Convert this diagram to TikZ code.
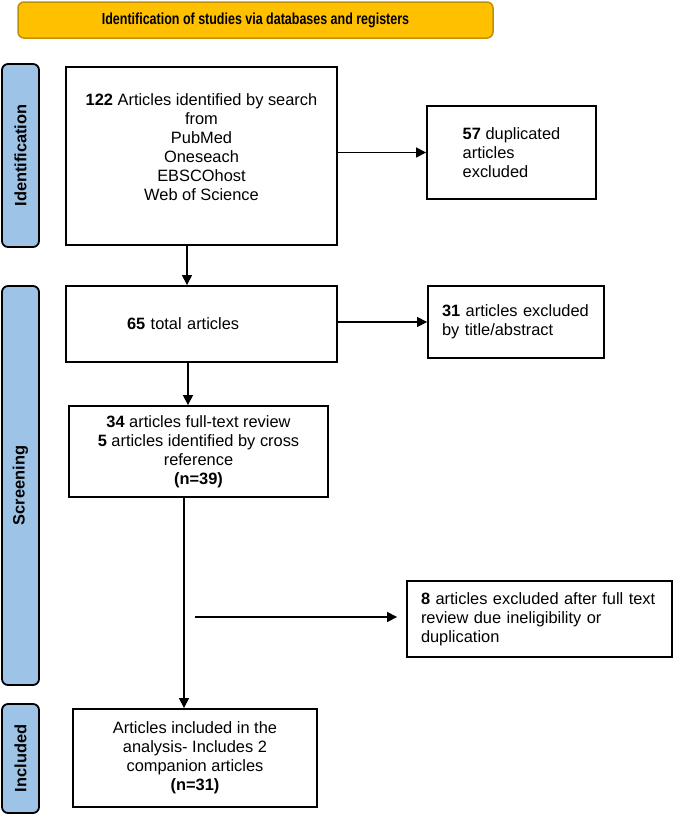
\documentclass[tikz,border=0pt]{standalone}
\usepackage{fontspec}
\setmainfont{Liberation Sans}
\usepackage{graphicx}
\usetikzlibrary{arrows.meta}
\definecolor{hdrfill}{HTML}{FFC000}
\definecolor{hdrline}{HTML}{BF9000}
\definecolor{sidefill}{HTML}{9DC3E6}
\begin{document}
\begin{tikzpicture}[x=1pt,y=-1pt,
 box/.style={draw, line width=1.8pt, rectangle, inner sep=0pt, font=\fontsize{16.4}{19}\selectfont},
 side/.style={draw, line width=1.8pt, fill=sidefill, rounded corners=6pt, rotate=90, font=\bfseries\fontsize{16.4}{19}\selectfont, inner sep=0pt},
 arr/.style={-{Triangle[length=10pt,width=10pt]}, line width=1.2pt},
]
\useasboundingbox (0,0) rectangle (685,815);
\fill[white] (0,0) rectangle (685,815);

\node[draw=hdrline, line width=1.5pt, fill=hdrfill, rounded corners=6pt, minimum width=475pt, minimum height=36pt, inner sep=0pt] (hdr) at (255.5,20)
 {\scalebox{0.78}[1]{\bfseries\fontsize{16}{18}\selectfont Identification of studies via databases and registers}};

\node[side, minimum width=183pt, minimum height=37pt] (idlab) at (20.5,155.5) {Identification};
\node[side, minimum width=399pt, minimum height=37pt] (scrlab) at (20.5,485.5) {Screening};
\node[side, minimum width=109pt, minimum height=37pt] (inclab) at (20.5,758.5) {Included};

\node[box, minimum width=271pt, minimum height=178pt, align=center] (b1) at (201.5,156)
 {\textbf{122} Articles identified by search\\from\\PubMed\\Oneseach\\EBSCOhost\\Web of Science\\[-2pt]};
\node[box, minimum width=169pt, minimum height=93pt, align=left] (b57) at (511.5,152.5)
 {\textbf{57} duplicated\\articles\\excluded};
\node[box, minimum width=271pt, minimum height=76pt, text width=149pt, align=left] (b2) at (201.5,324)
 {\textbf{65} total articles};
\node[box, minimum width=176pt, minimum height=72pt, text width=148pt, align=left] (b31) at (516,322)
 {\textbf{31} articles excluded\\by title/abstract};
\node[box, minimum width=259pt, minimum height=91pt, align=center] (b3) at (198.5,451.5)
 {\textbf{34} articles full-text review\\\textbf{5} articles identified by cross\\reference\\\textbf{(n=39)}};
\node[box, minimum width=265pt, minimum height=76pt, text width=237pt, align=left] (b8) at (539.5,619)
 {\textbf{8} articles excluded after full text\\review due ineligibility or\\duplication};
\node[box, minimum width=244pt, minimum height=98pt, align=center] (b4) at (195,758)
 {Articles included in the\\analysis- Includes 2\\companion articles\\\textbf{(n=31)}};

\coordinate (v1) at (187,0);
\coordinate (v2) at (188,0);
\coordinate (v3) at (184,0);
\coordinate (h0) at (195,617);

\draw[arr] (v1 |- b1.south) -- (v1 |- b2.north);
\draw[arr] (b1.east |- b57.west) -- (b57.west);
\draw[arr] (b2.east |- b31.west) -- (b31.west);
\draw[arr] (v2 |- b2.south) -- (v2 |- b3.north);
\draw[arr] (v3 |- b3.south) -- (v3 |- b4.north);
\draw[arr, shorten >=9pt] (h0) -- (h0 -| b8.west);
\end{tikzpicture}
\end{document}
